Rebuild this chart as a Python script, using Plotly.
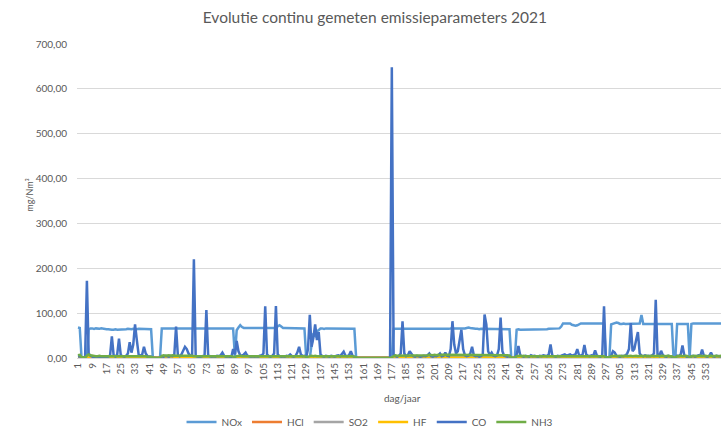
import plotly.graph_objects as go

# ---- data (values per day of year) ----
TICK_DAYS = list(range(1, 362, 8))

NOX = [
    68, 67, 0, 0, 0, 0, 64, 66, 66, 65,
    66, 65, 65, 66, 65, 64, 64, 64, 63, 63,
    63, 64, 63, 63, 64, 64, 64, 64, 65, 64,
    64, 65, 64, 64, 65, 65, 64, 65, 64, 65,
    65, 64, 0, 0, 0, 0, 0, 66, 66, 66,
    65, 66, 66, 66, 65, 66, 66, 65, 66, 66,
    66, 65, 66, 66, 66, 66, 65, 66, 66, 66,
    66, 65, 66, 66, 66, 65, 66, 66, 66, 66,
    65, 66, 66, 66, 66, 65, 66, 66, 4, 62,
    68, 73, 69, 67, 67, 67, 66, 67, 67, 67,
    67, 66, 67, 67, 67, 67, 66, 67, 67, 67,
    67, 68, 70, 73, 70, 67, 67, 67, 66, 67,
    67, 67, 66, 67, 67, 67, 67, 66, 0, 0,
    0, 30, 55, 50, 60, 62, 66, 66, 65, 66,
    66, 66, 65, 66, 66, 66, 65, 66, 66, 66,
    66, 65, 66, 66, 66, 65, 0, 0, 0, 0,
    0, 0, 0, 0, 0, 0, 0, 0, 0, 0,
    0, 0, 0, 0, 0, 0, 0, 65, 65, 65,
    65, 65, 65, 64, 65, 65, 64, 65, 65, 65,
    65, 64, 65, 65, 65, 64, 65, 65, 65, 65,
    64, 65, 65, 64, 65, 65, 65, 64, 65, 66,
    66, 65, 65, 66, 65, 65, 66, 66, 67, 68,
    67, 66, 65, 65, 65, 64, 65, 65, 65, 64,
    65, 65, 64, 64, 65, 65, 64, 65, 65, 64,
    64, 65, 64, 0, 0, 0, 63, 64, 63, 63,
    63, 64, 63, 63, 64, 64, 64, 63, 63, 64,
    64, 64, 64, 64, 65, 65, 65, 65, 66, 66,
    66, 70, 77, 77, 77, 76, 77, 74, 73, 72,
    73, 76, 77, 77, 77, 77, 77, 77, 77, 77,
    77, 77, 77, 77, 77, 77, 0, 0, 0, 75,
    76, 77, 79, 78, 76, 76, 77, 76, 76, 76,
    76, 77, 76, 76, 76, 77, 96, 76, 76, 76,
    76, 76, 77, 76, 76, 76, 76, 76, 77, 76,
    76, 76, 76, 76, 0, 0, 76, 76, 76, 76,
    76, 76, 76, 0, 76, 77, 77, 77, 77, 77,
    77, 77, 77, 77, 77, 77, 77, 77, 77, 77,
    77, 77, 77, 77, 77,
]

CO = [
    3, 4, 1, 0, 1, 172, 10, 5, 3, 2,
    1, 0, 1, 2, 0, 1, 2, 3, 6, 48,
    6, 3, 8, 43, 6, 4, 3, 5, 10, 35,
    12, 30, 75, 40, 8, 5, 8, 25, 10, 4,
    3, 3, 0, 0, 0, 0, 0, 4, 3, 5,
    4, 3, 5, 4, 6, 70, 6, 4, 8, 15,
    25, 20, 10, 5, 5, 220, 5, 3, 2, 3,
    4, 6, 107, 6, 4, 3, 4, 3, 5, 4,
    6, 12, 5, 3, 4, 3, 2, 20, 8, 38,
    15, 6, 5, 8, 12, 5, 4, 3, 4, 3,
    4, 3, 5, 6, 10, 115, 8, 4, 3, 5,
    10, 116, 8, 4, 3, 4, 3, 5, 4, 8,
    4, 3, 5, 12, 25, 8, 4, 5, 2, 20,
    96, 25, 45, 75, 40, 58, 8, 4, 3, 5,
    4, 3, 5, 4, 3, 5, 6, 4, 8, 14,
    5, 4, 6, 15, 5, 3, 0, 0, 0, 0,
    0, 0, 0, 0, 0, 0, 0, 0, 0, 0,
    0, 0, 0, 0, 0, 0, 648, 8, 4, 3,
    5, 10, 82, 10, 4, 6, 15, 10, 4, 3,
    5, 4, 3, 4, 5, 4, 6, 10, 4, 3,
    5, 4, 6, 10, 4, 5, 12, 5, 4, 20,
    82, 30, 10, 15, 40, 63, 20, 6, 4, 5,
    10, 25, 6, 4, 5, 3, 4, 8, 97, 75,
    15, 6, 12, 5, 4, 6, 20, 90, 15, 5,
    4, 3, 5, 0, 0, 0, 8, 27, 6, 4,
    3, 5, 4, 3, 6, 4, 5, 4, 3, 5,
    4, 6, 5, 4, 8, 30, 5, 4, 3, 5,
    4, 5, 6, 8, 5, 7, 8, 5, 6, 8,
    20, 6, 5, 8, 29, 8, 5, 4, 6, 5,
    17, 5, 4, 3, 6, 115, 0, 0, 0, 5,
    15, 12, 5, 4, 3, 5, 4, 6, 10, 20,
    78, 15, 20, 40, 58, 10, 5, 4, 6, 4,
    5, 4, 6, 10, 130, 8, 5, 16, 6, 4,
    3, 5, 4, 3, 0, 0, 5, 4, 8, 28,
    6, 4, 3, 0, 4, 5, 3, 4, 6, 5,
    19, 5, 4, 3, 5, 12, 4, 3, 5, 4,
    4, 3, 5, 4, 3,
]

NH3 = [
    6, 7, 2, 1, 1, 5, 8, 6, 5, 5,
    4, 4, 5, 4, 4, 5, 4, 4, 5, 5,
    4, 5, 5, 4, 4, 5, 4, 4, 5, 4,
    5, 4, 4, 5, 4, 4, 5, 4, 4, 3,
    3, 3, 1, 0, 0, 0, 1, 5, 6, 5,
    6, 6, 5, 6, 5, 5, 6, 5, 5, 6,
    5, 5, 6, 5, 5, 4, 4, 5, 4, 4,
    5, 4, 4, 5, 4, 4, 5, 4, 4, 4,
    5, 4, 4, 5, 4, 4, 4, 3, 2, 4,
    5, 5, 4, 4, 5, 4, 4, 5, 4, 4,
    5, 4, 4, 5, 4, 5, 4, 4, 5, 4,
    4, 5, 4, 4, 5, 4, 4, 5, 4, 4,
    5, 4, 4, 5, 4, 4, 5, 4, 2, 3,
    4, 5, 4, 5, 4, 4, 5, 4, 4, 5,
    4, 5, 4, 4, 5, 4, 4, 5, 4, 4,
    5, 4, 4, 5, 4, 3, 1, 0, 0, 0,
    0, 0, 0, 0, 0, 0, 0, 0, 0, 0,
    0, 0, 0, 0, 0, 0, 2, 5, 6, 5,
    5, 6, 5, 5, 6, 5, 5, 6, 5, 5,
    6, 5, 5, 6, 5, 6, 6, 7, 6, 6,
    7, 6, 7, 6, 7, 7, 6, 7, 7, 6,
    7, 6, 7, 7, 6, 7, 6, 7, 7, 6,
    7, 7, 6, 7, 7, 6, 7, 7, 6, 7,
    7, 6, 7, 7, 6, 7, 7, 6, 7, 6,
    6, 6, 5, 1, 0, 1, 4, 5, 5, 4,
    5, 4, 4, 5, 4, 4, 5, 4, 4, 5,
    4, 5, 5, 4, 5, 5, 4, 5, 5, 4,
    5, 5, 4, 5, 5, 4, 5, 5, 4, 5,
    5, 4, 5, 5, 4, 5, 5, 4, 5, 5,
    4, 5, 5, 4, 5, 4, 1, 1, 2, 4,
    5, 5, 4, 5, 5, 4, 5, 5, 4, 5,
    5, 4, 5, 5, 4, 5, 5, 4, 5, 5,
    4, 5, 5, 4, 5, 5, 4, 5, 5, 4,
    5, 5, 4, 4, 1, 1, 4, 5, 5, 4,
    5, 5, 4, 1, 4, 5, 5, 4, 5, 5,
    4, 5, 5, 4, 5, 5, 4, 5, 5, 4,
    5, 5, 4, 5, 5,
]

HF = [
    1, 1, 0, 0, 0, 1, 1, 1, 1, 1,
    1, 1, 1, 1, 1, 1, 1, 1, 1, 1,
    1, 1, 1, 2, 2, 2, 2, 1, 2, 2,
    2, 2, 1, 2, 2, 1, 1, 1, 1, 1,
    1, 1, 0, 0, 0, 0, 0, 1, 1, 1,
    1, 1, 1, 1, 1, 1, 1, 1, 1, 1,
    1, 1, 1, 1, 1, 1, 1, 1, 1, 1,
    1, 1, 1, 1, 1, 1, 1, 1, 1, 1,
    1, 1, 1, 1, 1, 1, 1, 1, 0, 1,
    1, 1, 1, 1, 1, 1, 1, 1, 1, 1,
    1, 1, 1, 1, 1, 1, 1, 1, 1, 1,
    1, 1, 1, 1, 1, 1, 1, 1, 1, 1,
    1, 1, 1, 1, 1, 1, 1, 1, 0, 0,
    1, 1, 1, 1, 1, 1, 1, 1, 1, 1,
    1, 1, 1, 1, 1, 1, 1, 1, 1, 1,
    1, 1, 1, 1, 1, 1, 0, 0, 0, 0,
    0, 0, 0, 0, 0, 0, 0, 0, 0, 0,
    0, 0, 0, 0, 0, 0, 0, 1, 1, 1,
    1, 1, 1, 1, 1, 1, 1, 1, 1, 1,
    1, 1, 1, 1, 1, 1, 1, 1, 1, 1,
    1, 1, 1, 1, 1, 1, 1, 1, 1, 1,
    1, 1, 1, 1, 1, 1, 1, 1, 1, 1,
    1, 1, 1, 1, 1, 1, 1, 1, 1, 1,
    1, 1, 1, 1, 1, 1, 1, 1, 1, 1,
    1, 1, 1, 0, 0, 0, 1, 1, 1, 1,
    1, 1, 1, 1, 1, 1, 1, 1, 1, 1,
    1, 1, 1, 1, 1, 1, 1, 1, 1, 1,
    1, 1, 1, 1, 1, 1, 1, 1, 1, 1,
    1, 1, 1, 1, 1, 1, 1, 1, 1, 1,
    1, 1, 1, 1, 1, 1, 0, 0, 0, 1,
    1, 1, 1, 1, 1, 1, 1, 1, 1, 1,
    1, 1, 1, 1, 1, 1, 1, 1, 1, 1,
    1, 1, 1, 1, 1, 1, 1, 1, 1, 1,
    1, 1, 1, 1, 0, 0, 1, 1, 1, 1,
    1, 1, 1, 0, 1, 1, 1, 1, 1, 1,
    1, 1, 1, 1, 1, 1, 1, 1, 1, 1,
    1, 1, 1, 1, 1,
]

SO2 = [
    2, 2, 0, 0, 0, 1, 2, 2, 2, 2,
    2, 2, 2, 2, 2, 2, 2, 2, 2, 2,
    2, 2, 2, 2, 2, 2, 2, 2, 2, 2,
    2, 2, 2, 2, 2, 2, 2, 2, 2, 2,
    2, 2, 0, 0, 0, 0, 0, 2, 2, 2,
    2, 2, 2, 2, 2, 2, 2, 2, 2, 2,
    2, 2, 2, 2, 2, 2, 2, 2, 2, 2,
    2, 2, 2, 2, 2, 2, 2, 2, 2, 2,
    2, 2, 2, 2, 2, 2, 2, 2, 0, 2,
    2, 2, 2, 2, 2, 2, 2, 2, 2, 2,
    2, 2, 2, 2, 2, 2, 2, 2, 2, 2,
    2, 2, 2, 2, 2, 2, 2, 2, 2, 2,
    2, 2, 2, 2, 2, 2, 2, 2, 0, 0,
    1, 2, 2, 2, 2, 2, 2, 2, 2, 2,
    2, 2, 2, 2, 2, 2, 2, 2, 2, 2,
    2, 2, 2, 2, 2, 2, 0, 0, 0, 0,
    0, 0, 0, 0, 0, 0, 0, 0, 0, 0,
    0, 0, 0, 0, 0, 0, 0, 2, 2, 2,
    2, 2, 2, 2, 2, 2, 2, 2, 2, 2,
    2, 2, 2, 2, 2, 2, 2, 2, 2, 2,
    2, 2, 2, 2, 2, 2, 2, 2, 2, 2,
    2, 2, 2, 2, 2, 2, 2, 2, 2, 2,
    2, 2, 2, 2, 2, 2, 2, 2, 2, 2,
    2, 2, 2, 2, 2, 2, 2, 2, 2, 2,
    2, 2, 2, 0, 0, 0, 2, 2, 2, 2,
    2, 2, 2, 2, 2, 2, 2, 2, 2, 2,
    2, 2, 2, 2, 2, 2, 2, 2, 2, 2,
    2, 2, 2, 2, 2, 2, 2, 2, 2, 2,
    2, 2, 2, 2, 2, 2, 2, 2, 2, 2,
    2, 2, 2, 2, 2, 2, 0, 0, 0, 2,
    2, 2, 2, 2, 2, 2, 2, 2, 2, 2,
    2, 2, 2, 2, 2, 2, 2, 2, 2, 2,
    2, 2, 2, 2, 2, 2, 2, 2, 2, 2,
    2, 2, 2, 2, 0, 0, 2, 2, 2, 2,
    2, 2, 2, 0, 2, 2, 2, 2, 2, 2,
    2, 2, 2, 2, 2, 2, 2, 2, 2, 2,
    2, 2, 2, 2, 2,
]

HCL = [
    1, 1, 0, 0, 0, 1, 1, 1, 1, 1,
    1, 1, 1, 1, 1, 1, 1, 1, 1, 1,
    1, 1, 1, 1, 1, 1, 1, 1, 1, 1,
    1, 1, 1, 1, 1, 1, 1, 1, 1, 1,
    1, 1, 0, 0, 0, 0, 0, 1, 1, 1,
    1, 1, 1, 1, 1, 1, 1, 1, 1, 1,
    1, 1, 1, 1, 1, 1, 1, 1, 1, 1,
    1, 1, 1, 1, 1, 1, 1, 1, 1, 1,
    1, 1, 1, 1, 1, 1, 1, 1, 0, 1,
    1, 1, 1, 1, 1, 1, 1, 1, 1, 1,
    1, 1, 1, 1, 1, 1, 1, 1, 1, 1,
    1, 1, 1, 1, 1, 1, 1, 1, 1, 1,
    1, 1, 1, 1, 1, 1, 1, 1, 0, 0,
    1, 1, 1, 1, 1, 1, 1, 1, 1, 1,
    1, 1, 1, 1, 1, 1, 1, 1, 1, 1,
    1, 1, 1, 1, 1, 1, 0, 0, 0, 0,
    0, 0, 0, 0, 0, 0, 0, 0, 0, 0,
    0, 0, 0, 0, 0, 0, 0, 1, 1, 1,
    1, 1, 1, 1, 1, 1, 1, 1, 1, 1,
    1, 1, 1, 1, 1, 1, 1, 1, 1, 1,
    1, 1, 1, 1, 1, 1, 1, 1, 1, 1,
    1, 1, 1, 1, 1, 1, 1, 1, 1, 1,
    1, 1, 1, 1, 1, 1, 1, 1, 1, 1,
    1, 1, 1, 1, 1, 1, 1, 1, 1, 1,
    1, 1, 1, 0, 0, 0, 1, 1, 1, 1,
    1, 1, 1, 1, 1, 1, 1, 1, 1, 1,
    1, 1, 1, 1, 1, 1, 1, 1, 1, 1,
    1, 1, 1, 1, 1, 1, 1, 1, 1, 1,
    1, 1, 1, 1, 1, 1, 1, 1, 1, 1,
    1, 1, 1, 1, 1, 1, 0, 0, 0, 1,
    1, 1, 1, 1, 1, 1, 1, 1, 1, 1,
    1, 1, 1, 1, 1, 1, 1, 1, 1, 1,
    1, 1, 1, 1, 1, 1, 1, 1, 1, 1,
    1, 1, 1, 1, 0, 0, 1, 1, 1, 1,
    1, 1, 1, 0, 1, 1, 1, 1, 1, 1,
    1, 1, 1, 1, 1, 1, 1, 1, 1, 1,
    1, 1, 1, 1, 1,
]

SERIES = [
    ("NOx", NOX, "#5B9BD5"),
    ("HCl", HCL, "#ED7D31"),
    ("SO2", SO2, "#A5A5A5"),
    ("HF", HF, "#FFC000"),
    ("CO", CO, "#4472C4"),
    ("NH3", NH3, "#70AD47"),
]

FONT = "Lato, 'Open Sans', sans-serif"
GREY = "#595959"

fig = go.Figure()
for name, vals, color in SERIES:
    fig.add_trace(go.Scatter(
        x=list(range(1, len(vals) + 1)), y=vals, name=name, mode="lines",
        line=dict(color=color, width=2.5),
    ))

fig.update_layout(
    width=721, height=430,
    margin=dict(l=77, r=0, t=44, b=72),
    paper_bgcolor="white", plot_bgcolor="white",
    separators=",.",
    font=dict(family=FONT, color=GREY, size=10),
    title=dict(text="Evolutie continu gemeten emissieparameters 2021",
               x=0.52, xanchor="center", y=1 - 18 / 430, yanchor="middle",
               font=dict(size=15.5, color=GREY, family=FONT)),
    showlegend=True,
    legend=dict(orientation="h", xref="paper", x=0.455, xanchor="center",
                yref="container", y=1 - 422 / 430, yanchor="middle",
                font=dict(size=10, color=GREY), bgcolor="rgba(0,0,0,0)",
                itemwidth=30, tracegroupgap=0),
    xaxis=dict(range=[0.45, 361.6], tickmode="array", tickvals=TICK_DAYS,
               ticktext=[str(d) for d in TICK_DAYS], tickangle=-90,
               showgrid=False, zeroline=False, showline=True, linecolor="#D9D9D9",
               ticks="", tickfont=dict(size=10, color=GREY), automargin=False),
    yaxis=dict(range=[0, 700], dtick=100, tickformat=".2f", showgrid=True,
               gridcolor="#D9D9D9", gridwidth=1, zeroline=False, showline=False,
               ticks="", ticklabelstandoff=9, tickfont=dict(size=10, color=GREY),
               automargin=False),
    annotations=[
        dict(text="dag/jaar", xref="paper", yref="paper", x=0.506, y=-0.128,
             xanchor="center", yanchor="middle", showarrow=False,
             font=dict(size=10, color=GREY)),
        dict(text="mg/Nm³", xref="paper", yref="paper", x=-0.073, y=0.52,
             xanchor="center", yanchor="middle", showarrow=False, textangle=-90,
             font=dict(size=9, color=GREY)),
    ],
)

fig.write_html("out.html", config={"displayModeBar": False},
               post_script="document.body.style.margin='0';")
